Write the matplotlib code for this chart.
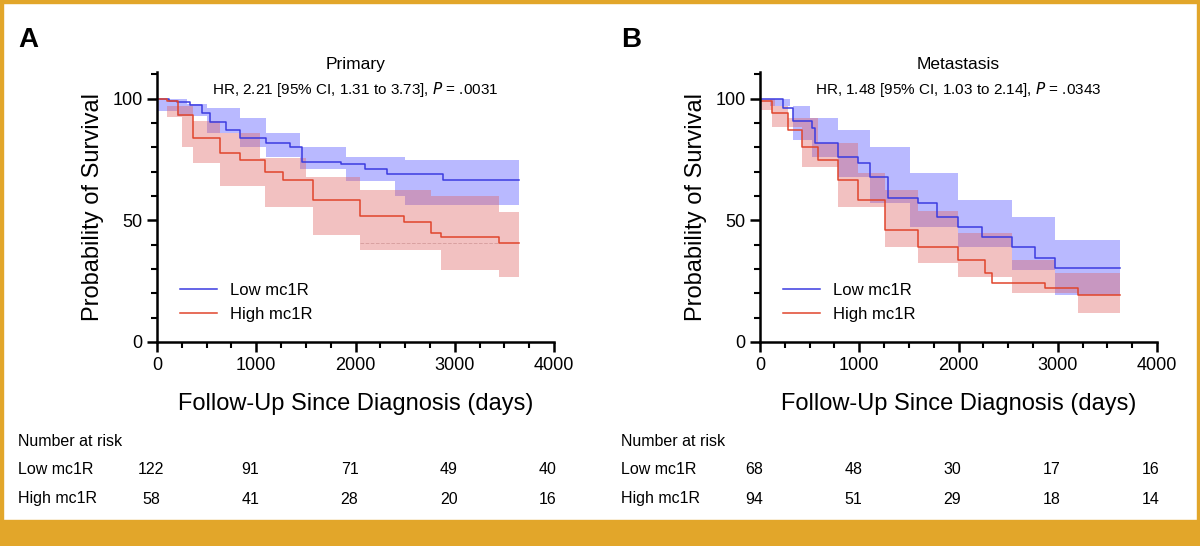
import matplotlib
matplotlib.use("Agg")
import matplotlib.pyplot as plt
import matplotlib.transforms as mtransforms
from matplotlib.patches import Rectangle
from matplotlib.ticker import MultipleLocator
import numpy as np

plt.rcParams["font.family"] = ["Liberation Sans", "DejaVu Sans"]

# Panel A - Primary (step curves: time in days, survival %)
a_low_t = [0, 120, 200, 333, 450, 535, 700, 840, 1100, 1340, 1465, 1850, 2100, 2320, 2880, 3650]
a_low_s = [100, 99, 98.5, 97.5, 94, 90.5, 87, 84, 82, 80, 74, 73, 71, 69, 66.7, 66.7]
a_low_up_t = [0, 300, 500, 840, 1100, 1445, 1900, 2500, 3650]
a_low_up_s = [100, 98, 96, 92, 86, 80, 76, 75, 74.5]
a_low_lo_t = [0, 200, 500, 840, 1100, 1445, 1900, 2400, 2500, 3650]
a_low_lo_s = [95, 93, 86, 80, 76, 71, 66, 60, 56.5, 56.5]

a_high_t = [0, 100, 212, 364, 636, 840, 1090, 1273, 1575, 2050, 2485, 2760, 2860, 3444, 3650]
a_high_s = [100, 99, 93.4, 84, 77.8, 75, 70, 66.7, 58.4, 51.9, 49.4, 44.9, 43.2, 40.7, 40.7]
a_high_up_t = [0, 100, 364, 636, 1040, 1500, 2050, 2760, 3444, 3650]
a_high_up_s = [100, 97, 91, 86, 75.7, 68, 62.5, 60, 53.5, 53.5]
a_high_lo_t = [0, 100, 250, 364, 636, 1090, 1575, 2050, 2860, 3444, 3650]
a_high_lo_s = [100, 92.6, 80, 73.6, 64, 55.5, 44, 37.9, 29.6, 26.7, 26.7]

# Panel B - Metastasis
b_low_t = [0, 232, 330, 524, 554, 786, 987, 1108, 1290, 1592, 1783, 1995, 2237, 2540, 2770, 2972, 3627]
b_low_s = [100, 96, 91, 88, 82, 76, 73.6, 68, 59, 57, 51.4, 47.3, 43, 39, 34.6, 30.5, 30.5]
b_low_up_t = [0, 300, 500, 786, 1108, 1510, 1995, 2540, 2972, 3627]
b_low_up_s = [100, 97, 92, 87, 80, 69.5, 58.4, 51.4, 42, 42]
b_low_lo_t = [0, 100, 330, 524, 786, 1108, 1510, 1995, 2540, 2972, 3627]
b_low_lo_s = [100, 97, 83, 76, 68, 57, 47.3, 39, 29.6, 19.3, 19.3]

b_high_t = [0, 120, 282, 423, 584, 786, 987, 1260, 1592, 1995, 2267, 2337, 2872, 3204, 3627]
b_high_s = [99, 94, 87, 80, 75, 66.7, 58.4, 46, 39, 33.7, 28.4, 24.3, 22.2, 19.3, 19.3]
b_high_up_t = [0, 150, 282, 584, 987, 1260, 1592, 1995, 2540, 2972, 3627]
b_high_up_s = [100, 97, 92, 82, 69.5, 62.5, 54, 45, 33.7, 28.4, 28.4]
b_high_lo_t = [0, 120, 423, 786, 1260, 1592, 1995, 2540, 3204, 3627]
b_high_lo_s = [95.5, 88.5, 72, 55.5, 39, 32.5, 26.7, 20, 12, 12]

risk_times = [0, 1000, 2000, 3000, 4000]
a_risk_low = [122, 91, 71, 49, 40]
a_risk_high = [58, 41, 28, 20, 16]
b_risk_low = [68, 48, 30, 17, 16]
b_risk_high = [94, 51, 29, 18, 14]

BLUE = "#3b3be0"
RED = "#e0452c"
GOLD = "#e2a62a"

W, H = 1200, 546
fig = plt.figure(figsize=(12, 5.46), dpi=100)
fig.patch.set_facecolor("white")

# gold frame
fig.add_artist(Rectangle((0, 0), 1, 26 / H, transform=fig.transFigure, color=GOLD, zorder=0))
fig.add_artist(Rectangle((0, 0), 3 / W, 1, transform=fig.transFigure, color=GOLD, zorder=0))
fig.add_artist(Rectangle((1 - 3 / W, 0), 3 / W, 1, transform=fig.transFigure, color=GOLD, zorder=0))
fig.add_artist(Rectangle((0, 1 - 3 / H), 1, 3 / H, transform=fig.transFigure, color=GOLD, zorder=0))


def step_value(ts, vs, g):
    i = max(i for i, t in enumerate(ts) if t <= g)
    return vs[i]


def panel(left_px, letter, title, hr_text, low, high, risk_low, risk_high):
    ax = fig.add_axes([left_px / W, (H - 342) / H, 397 / W, 270 / H])
    (lt, ls, lut, lus, llt, lls) = low
    (ht, hs, hut, hus, hlt, hls) = high

    def band(ut, us, lt_, ls_, color):
        grid = np.array(sorted(set(ut) | set(lt_)))
        up = [step_value(ut, us, g) for g in grid]
        lo = [step_value(lt_, ls_, g) for g in grid]
        ax.fill_between(grid, lo, up, step="post", color=color, lw=0)

    band(lut, lus, llt, lls, (0.35, 0.35, 1.0, 0.42))
    band(hut, hus, hlt, hls, (0.88, 0.4, 0.4, 0.4))
    ax.step(lt, ls, where="post", color=BLUE, lw=1.1, label="Low mc1R")
    ax.step(ht, hs, where="post", color=RED, lw=1.1, label="High mc1R")

    ax.set_xlim(0, 4000)
    ax.set_ylim(0, 111)
    ax.set_xticks(risk_times)
    ax.set_yticks([0, 50, 100])
    ax.xaxis.set_minor_locator(MultipleLocator(250))
    ax.yaxis.set_minor_locator(MultipleLocator(10))
    ax.tick_params(which="major", length=7, width=1.8, labelsize=13, direction="out")
    ax.tick_params(which="minor", length=4, width=1.5, direction="out")
    ax.spines[["top", "right"]].set_visible(False)
    ax.spines[["left", "bottom"]].set_linewidth(1.8)
    ax.set_ylabel("Probability of Survival", fontsize=17, labelpad=6)
    ax.set_xlabel("Follow-Up Since Diagnosis (days)", fontsize=17, labelpad=14)
    ax.text(0.5, 1.0, title, transform=ax.transAxes, ha="center", va="bottom", fontsize=12.5)
    ax.text(0.5, 0.935, hr_text, transform=ax.transAxes, ha="center", va="center", fontsize=11)
    ax.legend(loc="lower left", bbox_to_anchor=(0.02, 0.02), frameon=False, fontsize=12,
              handlelength=2.2)

    fig.text((left_px - 139) / W, 1 - 40 / H, letter, fontsize=20, fontweight="bold",
             ha="left", va="center")
    trans = mtransforms.blended_transform_factory(ax.transData, fig.transFigure)
    fig.text((left_px - 139) / W, 1 - 441 / H, "Number at risk", fontsize=11.5, va="center")
    fig.text((left_px - 139) / W, 1 - 470 / H, "Low mc1R", fontsize=11.5, va="center")
    fig.text((left_px - 139) / W, 1 - 499 / H, "High mc1R", fontsize=11.5, va="center")
    for t, nl, nh in zip(risk_times, risk_low, risk_high):
        ax.text(t - 60, 1 - 470 / H, str(nl), transform=trans, ha="center", va="center", fontsize=11.5)
        ax.text(t - 60, 1 - 499 / H, str(nh), transform=trans, ha="center", va="center", fontsize=11.5)
    return ax


axA = panel(157, "A", "Primary", "HR, 2.21 [95% CI, 1.31 to 3.73], $\\it{P}$ = .0031",
            (a_low_t, a_low_s, a_low_up_t, a_low_up_s, a_low_lo_t, a_low_lo_s),
            (a_high_t, a_high_s, a_high_up_t, a_high_up_s, a_high_lo_t, a_high_lo_s),
            a_risk_low, a_risk_high)
axA.hlines(40.7, 2050, 3444, colors="#d9a0a0", linestyles="--", lw=0.7)

panel(760, "B", "Metastasis", "HR, 1.48 [95% CI, 1.03 to 2.14], $\\it{P}$ = .0343",
      (b_low_t, b_low_s, b_low_up_t, b_low_up_s, b_low_lo_t, b_low_lo_s),
      (b_high_t, b_high_s, b_high_up_t, b_high_up_s, b_high_lo_t, b_high_lo_s),
      b_risk_low, b_risk_high)

fig.savefig("out.png", dpi=100)
